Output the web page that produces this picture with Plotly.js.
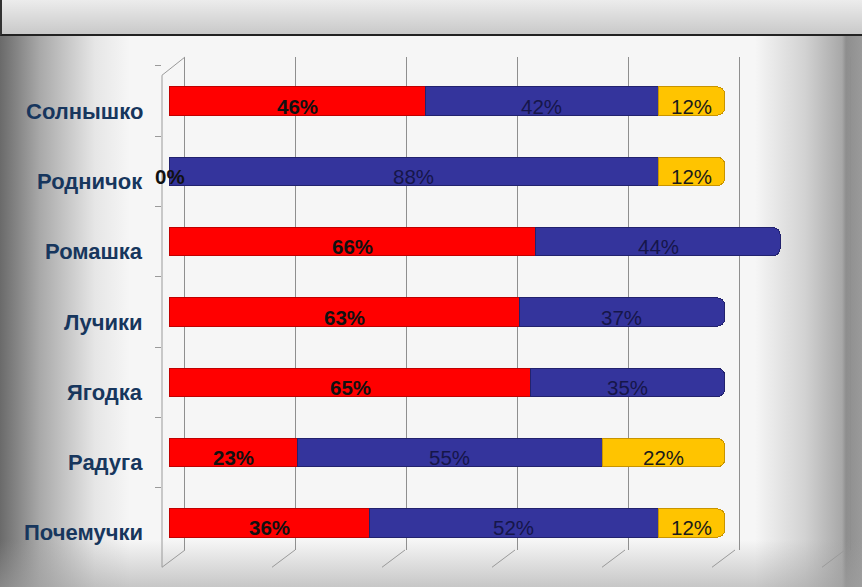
<!DOCTYPE html>
<html>
<head>
<meta charset="utf-8">
<script src="https://cdn.plot.ly/plotly-3.0.1.min.js"></script>
<style>
  html, body { margin:0; padding:0; }
  #wrap {
    position:relative; width:862px; height:587px; overflow:hidden;
    background:
      linear-gradient(to bottom, rgba(255,255,255,0) 540px, rgba(160,160,160,0.55) 587px),
      linear-gradient(to right, #6a6a6a 0px, #a9a9a9 40px, #e6e6e6 95px, #f6f6f6 130px, #f6f6f6 755px, #d2d2d2 805px, #a8a8a8 842px, #8e8e8e 846px, #9a9a9a 862px);
  }
  #topbox {
    position:absolute; left:0; top:0; width:862px; height:36px;
    background: linear-gradient(to bottom, #ececec, #c9c9c9);
    border-bottom:2px solid #222; border-left:2px solid #333; box-sizing:border-box;
    z-index:5;
  }
  #chart { position:absolute; left:0; top:0; width:862px; height:587px; }
</style>
</head>
<body>
<div id="wrap">
  <div id="chart"></div>
  <div id="topbox"></div>
</div>
<script>
// ---- data ----
const categories = ["Солнышко", "Родничок", "Ромашка", "Лучики", "Ягодка", "Радуга", "Почемучки"];
const redValues    = [46, 0, 66, 63, 65, 23, 36];
const blueValues   = [42, 88, 44, 37, 35, 55, 52];
const yellowValues = [12, 12, 0, 0, 0, 22, 12];

const FONT = "Liberation Sans, Arial, sans-serif";
const drawn = v => v > 0 ? v : null;

const series = [
  {values: redValues, color: "#ff0000", line: "#c00000", text: "#111", weight: "bold"},
  {values: blueValues, color: "#34349c", line: "#22226e", text: "#16164a", weight: "normal"},
  {values: yellowValues, color: "#ffc400", line: "#c89400", text: "#1a1a1a", weight: "normal"}
];

const traces = series.map(s => ({
  type: "bar", orientation: "h", y: categories, x: s.values.map(drawn),
  marker: {color: s.color, line: {color: s.line, width: 1}},
  hoverinfo: "skip", showlegend: false
}));

// value labels, centred on each segment through the x scale
const annotations = [];
categories.forEach((cat, i) => {
  let base = 0;
  series.forEach((s, k) => {
    const v = s.values[i];
    const show = v > 0 || k === 0;
    if (show) {
      annotations.push({
        xref: "x", yref: "y", x: base + v / 2, y: cat, text: v + "%",
        showarrow: false, xanchor: "center", yanchor: "middle", yshift: -5,
        font: {family: FONT, size: 20.5, color: s.text, weight: s.weight}
      });
    }
    base += v;
  });
  // category label
  annotations.push({
    xref: "paper", yref: "y", x: -17 / 693, y: cat, text: cat,
    showarrow: false, xanchor: "right", yanchor: "middle", yshift: -10,
    font: {family: FONT, size: 22, color: "#17365d", weight: "bold"}
  });
});

// decorative 3D floor / frame lines (paper coords)
const shapes = [];
const gridBack = [185, 295, 405, 515, 625, 735, 845];
gridBack.forEach(px => {
  shapes.push({type: "line", xref: "paper", yref: "paper",
    x0: (px - 23 - 162) / 693, y0: -0.035, x1: (px - 162) / 693, y1: 0,
    line: {color: "#9a9a9a", width: 1}});
});
shapes.push({type: "line", xref: "paper", yref: "paper", x0: 0, y0: -0.035, x1: 0, y1: 0.963,
  line: {color: "#9a9a9a", width: 1}});
shapes.push({type: "line", xref: "paper", yref: "paper", x0: 0, y0: 0.963, x1: 23/693, y1: 1,
  line: {color: "#9a9a9a", width: 1}});

const layout = {
  width: 862, height: 587,
  margin: {l: 162, r: 7, t: 57, b: 37},
  paper_bgcolor: "rgba(0,0,0,0)", plot_bgcolor: "rgba(0,0,0,0)",
  barmode: "stack", bargap: 0.6,
  barcornerradius: 7,
  shapes: shapes,
  annotations: annotations,
  xaxis: {
    range: [-1.4, 123.5], showticklabels: false, zeroline: false,
    tick0: 2.7, dtick: 20, showgrid: true, gridcolor: "#8f8f8f", gridwidth: 1,
    fixedrange: true
  },
  yaxis: {
    type: "category", range: [6.384, -0.626],
    showline: false, ticks: "outside", ticklen: 6, tickcolor: "#9a9a9a",
    tickson: "boundaries", showticklabels: false,
    showgrid: false, zeroline: false, fixedrange: true
  },
  font: {family: FONT}
};

Plotly.newPlot("chart", traces, layout, {displayModeBar: false, staticPlot: true});
</script>
</body>
</html>
